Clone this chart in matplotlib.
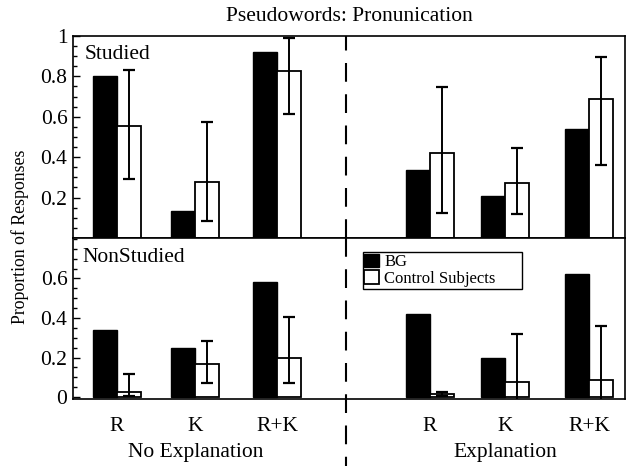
import matplotlib
matplotlib.use('Agg')
from matplotlib import pyplot as plt
from matplotlib.ticker import MultipleLocator

cats = ['R', 'K', 'R+K', 'R', 'K', 'R+K']
groups = ['No Explanation', 'Explanation']
series = ['BG', 'Control Subjects']

# Studied (top panel)
bg_studied = [0.80, 0.135, 0.92, 0.335, 0.21, 0.54]
ctl_studied = [0.555, 0.277, 0.827, 0.42, 0.272, 0.69]
ctl_studied_lo = [0.29, 0.085, 0.614, 0.124, 0.119, 0.361]
ctl_studied_hi = [0.83, 0.575, 0.99, 0.747, 0.446, 0.896]

# NonStudied (bottom panel)
bg_non = [0.338, 0.25, 0.582, 0.418, 0.2, 0.622]
ctl_non = [0.025, 0.167, 0.198, 0.015, 0.078, 0.088]
ctl_non_lo = [0.005, 0.071, 0.071, 0.005, -0.17, -0.19]
ctl_non_hi = [0.116, 0.284, 0.405, 0.026, 0.32, 0.36]

pos = [0.55, 1.53, 2.55, 4.46, 5.4, 6.45]
sep = 3.41
w = 0.3
fs = 15.5

plt.rcParams['font.family'] = ['Liberation Serif', 'DejaVu Serif']
fig = plt.figure(figsize=(6.28, 4.66), dpi=100)
ax1 = fig.add_axes([0.1162, 0.4893, 0.879, 0.4335])
ax2 = fig.add_axes([0.1162, 0.1438, 0.879, 0.3455], sharex=ax1)

panels = [(ax1, bg_studied, ctl_studied, ctl_studied_lo, ctl_studied_hi),
          (ax2, bg_non, ctl_non, ctl_non_lo, ctl_non_hi)]
for ax, bg, ctl, lo, hi in panels:
    xs_bg = [p - w / 2 for p in pos]
    xs_ctl = [p + w / 2 for p in pos]
    ax.bar(xs_bg, bg, w, color='black', edgecolor='black', linewidth=1.0, label=series[0])
    ax.bar(xs_ctl, ctl, w, color='white', edgecolor='black', linewidth=1.3, label=series[1])
    yerr = [[c - l for c, l in zip(ctl, lo)], [h - c for c, h in zip(ctl, hi)]]
    ax.errorbar(xs_ctl, ctl, yerr=yerr, fmt='none', ecolor='black', elinewidth=1.4,
                capsize=4, capthick=1.6)
    ax.yaxis.set_minor_locator(MultipleLocator(0.05))
    ax.tick_params(axis='y', which='both', direction='in', labelsize=fs, width=1, pad=4)
    ax.tick_params(axis='y', which='major', length=5)
    ax.tick_params(axis='y', which='minor', length=3)
    ax.tick_params(axis='x', length=0, labelsize=fs, pad=13)
    for s in ax.spines.values():
        s.set_linewidth(1.2)

ax1.set_xlim(0, 6.9)
ax1.set_ylim(0, 1)
ax1.set_yticks([0.2, 0.4, 0.6, 0.8, 1], ['0.2', '0.4', '0.6', '0.8', '1'])
ax1.tick_params(axis='x', labelbottom=False)
ax2.set_ylim(-0.01, 0.805)
ax2.set_yticks([0, 0.2, 0.4, 0.6], ['0', '0.2', '0.4', '0.6'])
ax2.set_xticks(pos, cats)

ax1.text(0.022, 0.955, 'Studied', transform=ax1.transAxes, fontsize=fs, va='top')
ax2.text(0.018, 0.94, 'NonStudied', transform=ax2.transAxes, fontsize=fs, va='top')

ax1.axvline(sep, color='black', lw=1.5, dashes=(9, 6))
ax2.plot([sep, sep], [1, -0.42], transform=ax2.get_xaxis_transform(), color='black',
         lw=1.5, dashes=(9, 6), clip_on=False)

for x, g in zip([pos[1], pos[4]], groups):
    ax2.text(x, -0.33, g, transform=ax2.get_xaxis_transform(), fontsize=fs,
             ha='center', va='center')

ax1.set_title('Pseudowords: Pronunication', fontsize=fs, pad=11)
fig.text(0.032, 0.491, 'Proportion of Responses', rotation=90, fontsize=12.8,
         ha='center', va='center')

leg = ax2.legend(loc='upper left', bbox_to_anchor=(0.525, 0.913, 0.288, 0.0),
                 mode='expand', fontsize=12, fancybox=False, edgecolor='black',
                 framealpha=1, handlelength=0.9, handleheight=0.9, handletextpad=0.3,
                 borderpad=0.1, labelspacing=0.0, borderaxespad=0)
leg.get_frame().set_linewidth(1.0)

plt.savefig('out.png', dpi=100)
